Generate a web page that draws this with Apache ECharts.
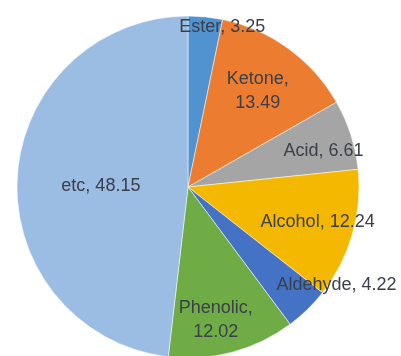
<!DOCTYPE html>
<html>
<head>
<meta charset="utf-8">
<script src="https://cdn.jsdelivr.net/npm/echarts@6/dist/echarts.min.js"></script>
<style>
  html, body { margin: 0; padding: 0; background: #fff; }
  #chart { width: 401px; height: 356px; }
</style>
</head>
<body>
<div id="chart"></div>
<script>
const categories = ['Ester', 'Ketone', 'Acid', 'Alcohol', 'Aldehyde', 'Phenolic', 'etc'];
const values = [3.25, 13.49, 6.61, 12.24, 4.22, 12.02, 48.15];
const colors = ['#5192d0', '#ec7c30', '#a5a5a5', '#f5b800', '#4472c4', '#6fac46', '#9bbde3'];

// où poser chaque étiquette : fraction du rayon + petit décalage en px
const labelRadius = [0.96, 0.69, 0.81, 0.78, 1.04, 0.78, 0.51];
const labelNudge = [[17, 9], [-2, 3], [-1, 8], [-3, -3], [20, -34], [-8, 0], [3, 4]];
// étiquettes sur deux lignes
const twoLines = ['Ketone', 'Phenolic'];

const center = [188, 187];
const radius = 171;

const chart = echarts.init(document.getElementById('chart'));

chart.setOption({
    animation: false,
    series: [{
        type: 'pie',
        center: center,
        radius: [0, radius],
        startAngle: 90,
        clockwise: true,
        data: categories.map((c, i) => ({
            name: c,
            value: values[i],
            itemStyle: { color: colors[i] }
        })),
        itemStyle: { borderColor: '#fff', borderWidth: 0.5 },
        label: {
            show: true,
            position: 'inside',
            color: '#3a3f48',
            fontFamily: 'Liberation Sans',
            fontSize: 18,
            lineHeight: 24,
            formatter: p => twoLines.includes(p.name)
                ? p.name + ',\n' + p.value.toFixed(2)
                : p.name + ', ' + p.value.toFixed(2)
        },
        labelLine: { show: false },
        labelLayout: function (params) {
            const i = params.dataIndex;
            const r = params.labelRect;
            const lx = r.x + r.width / 2;
            const ly = r.y + r.height / 2;
            const k = labelRadius[i] / 0.5 - 1;
            return {
                dx: (lx - center[0]) * k + labelNudge[i][0],
                dy: (ly - center[1]) * k + labelNudge[i][1]
            };
        },
        emphasis: { disabled: true }
    }]
});
</script>
</body>
</html>
